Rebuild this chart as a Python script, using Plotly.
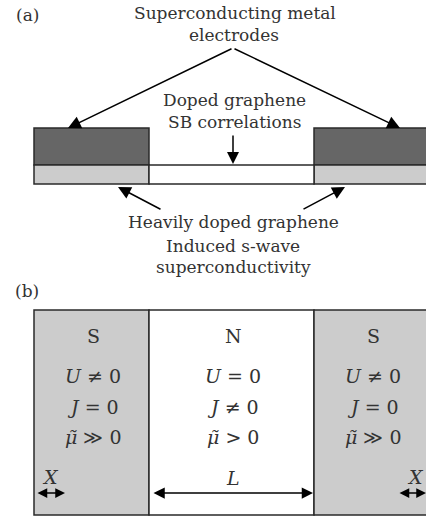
import plotly.graph_objects as go

W, H = 426, 517
FONT = "DejaVu Serif"
TXT = "#333333"
EDGE = "#2a2a2a"
DARK = "#666666"
LIGHT = "#cccccc"

# ---- panel (a) geometry (pixel-like layout units) ----
elec_x = [34, 149, 314, 440]          # left electrode [0:2], right electrode [2:4]
elec_y = [128, 165]                    # dark electrode band
strip_y = [165, 184]                   # graphene strip
# ---- panel (b) geometry ----
box_y = [310, 515]
region_x = [34, 149, 314, 440]

region_titles = ["S", "N", "S"]
region_U = ["<i>U</i> ≠ 0", "<i>U</i> = 0", "<i>U</i> ≠ 0"]
region_J = ["<i>J</i> = 0", "<i>J</i> ≠ 0", "<i>J</i> = 0"]
region_mu = ["<i>μ̃</i> ≫ 0", "<i>μ̃</i> > 0", "<i>μ̃</i> ≫ 0"]
region_fill = [LIGHT, "white", LIGHT]

fig = go.Figure()
shapes = []

# panel (a) electrodes and strip
for i, (x0, x1) in enumerate([(elec_x[0], elec_x[1]), (elec_x[2], elec_x[3])]):
    shapes.append(dict(type="rect", x0=x0, x1=x1, y0=elec_y[0], y1=elec_y[1],
                       fillcolor=DARK, line=dict(color=EDGE, width=1.5)))
    shapes.append(dict(type="rect", x0=x0, x1=x1, y0=strip_y[0], y1=strip_y[1],
                       fillcolor=LIGHT, line=dict(color=EDGE, width=1.5)))
shapes.append(dict(type="rect", x0=elec_x[1], x1=elec_x[2], y0=strip_y[0], y1=strip_y[1],
                   fillcolor="white", line=dict(color=EDGE, width=1.5)))

# panel (b) regions
for i in range(3):
    shapes.append(dict(type="rect", x0=region_x[i], x1=region_x[i + 1], y0=box_y[0], y1=box_y[1],
                       fillcolor=region_fill[i], line=dict(color=EDGE, width=1.5), layer="below"))

anns = []

def text(x, y, s, size=17):
    anns.append(dict(x=x, y=y, xref="x", yref="y", text=s, showarrow=False,
                     font=dict(family=FONT, size=size, color=TXT), xanchor="center", yanchor="middle"))

def arrow(x0, y0, x1, y1, both=False, head=1.7):
    anns.append(dict(x=x1, y=y1, ax=x0, ay=y0, xref="x", yref="y", axref="x", ayref="y",
                     text="", showarrow=True, arrowhead=2, arrowsize=head, arrowwidth=1.5,
                     arrowcolor="black", arrowside="end+start" if both else "end",
                     startarrowhead=2, startarrowsize=head))

# panel labels
text(27, 15, "(a)")
text(27, 291, "(b)")

# panel (a) texts and arrows
text(235, 13, "Superconducting metal")
text(234, 35, "electrodes")
arrow(233, 48, 68, 128)
arrow(233, 48, 400, 128)
text(234, 100, "Doped graphene")
text(234, 122, "SB correlations")
arrow(233, 134, 233, 164, head=1.6)
text(233, 222, "Heavily doped graphene")
text(233, 246, "Induced s-wave")
text(233, 267, "superconductivity")
arrow(162, 210, 118, 187)
arrow(302, 210, 345, 187)

# panel (b) texts
centers = [93, 233, 373]
for i, cx in enumerate(centers):
    text(cx, 336, region_titles[i], size=19)
    text(cx, 376, region_U[i], size=19)
    text(cx, 407, region_J[i], size=19)
    text(cx, 437, region_mu[i], size=19)

text(50, 477, "<i>X</i>", size=19)
text(415, 477, "<i>X</i>", size=19)
text(233, 478, "<i>L</i>", size=19)
arrow(36, 493, 65, 493, both=True, head=1.3)
arrow(398, 493, 426, 493, both=True, head=1.3)
arrow(152, 493, 313, 493, both=True, head=1.5)

fig.update_layout(
    width=W, height=H, margin=dict(l=0, r=0, t=0, b=0),
    paper_bgcolor="white", plot_bgcolor="white",
    xaxis=dict(range=[0, W], visible=False, fixedrange=True),
    yaxis=dict(range=[H, 0], visible=False, fixedrange=True),
    shapes=shapes, annotations=anns, showlegend=False,
)
fig.write_html("out.html")
